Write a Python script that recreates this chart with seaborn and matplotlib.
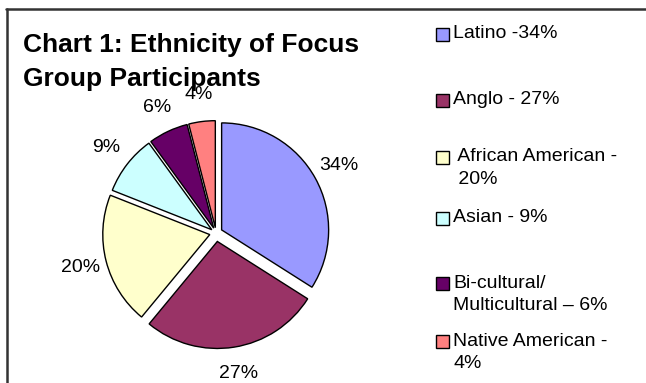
import matplotlib
matplotlib.use("Agg")
import matplotlib.pyplot as plt
from matplotlib.lines import Line2D
from matplotlib.patches import Rectangle
import seaborn as sns

# Focus group ethnicity breakdown (percent of participants)
categories = ["Latino", "Anglo", "African American", "Asian",
              "Bi-cultural/Multicultural", "Native American"]
shares = [34, 27, 20, 9, 6, 4]
legend_labels = ["Latino -34%", "Anglo - 27%", " African American -\n 20%",
                 "Asian - 9%", "Bi-cultural/\nMulticultural \u2013 6%",
                 "Native American -\n4%"]
title_lines = ["Chart 1: Ethnicity of Focus", "Group Participants"]

# Styling
slice_colors = sns.color_palette(["#9999FF", "#993366", "#FFFFCC",
                                  "#CCFFFF", "#660066", "#FF8080"])
explode = [0.06, 0.08, 0.06, 0.05, 0.05, 0.05]

sns.set_theme(style="white")
plt.rcParams["font.family"] = ["Liberation Sans", "DejaVu Sans"]

W, H = 646, 383
fig = plt.figure(figsize=(W / 100, H / 100), dpi=100)
fig.patch.set_facecolor("white")


def fx(x):
    return x / W


def fy(y):
    return 1 - y / H


# Pie area: centre (216, 233) px, radius 107 px
cx, cy, r = 216, 233, 107
lim = 1.3
side = 2 * lim * r
ax = fig.add_axes([fx(cx - side / 2), fy(cy + side / 2), side / W, side / H])
ax.pie(shares, colors=slice_colors, startangle=90, counterclock=False,
       explode=explode, autopct=lambda p: f"{p:.0f}%", pctdistance=1.25,
       wedgeprops=dict(edgecolor="black", linewidth=1.0),
       textprops=dict(fontsize=14, color="black"))
ax.set_xlim(-lim, lim)
ax.set_ylim(-lim, lim)
ax.set_aspect("auto")
ax.axis("off")

# Title
fig.text(fx(23), fy(52), title_lines[0], fontsize=19, fontweight="bold",
         ha="left", va="baseline", color="black")
fig.text(fx(23), fy(86), title_lines[1], fontsize=19, fontweight="bold",
         ha="left", va="baseline", color="black")

# Legend on the right
legend_y = [34, 100, 157, 218, 283, 341]
box = 13
line_gap = 22.5
for lab, col, y in zip(legend_labels, slice_colors, legend_y):
    fig.add_artist(Rectangle((fx(436), fy(y + box / 2)), box / W, box / H,
                             transform=fig.transFigure, facecolor=col,
                             edgecolor="black", linewidth=1.0))
    for i, line in enumerate(lab.split("\n")):
        fig.text(fx(453), fy(y + i * line_gap), line, fontsize=14,
                 ha="left", va="center", color="black")

# Frame lines along the top and left edges
fig.add_artist(Line2D([fx(6), 1], [fy(9), fy(9)], transform=fig.transFigure,
                      color="#333333", linewidth=1.8))
fig.add_artist(Line2D([fx(7), fx(7)], [fy(9), 0], transform=fig.transFigure,
                      color="#333333", linewidth=1.8))

fig.savefig("out.png", dpi=100, facecolor="white")
